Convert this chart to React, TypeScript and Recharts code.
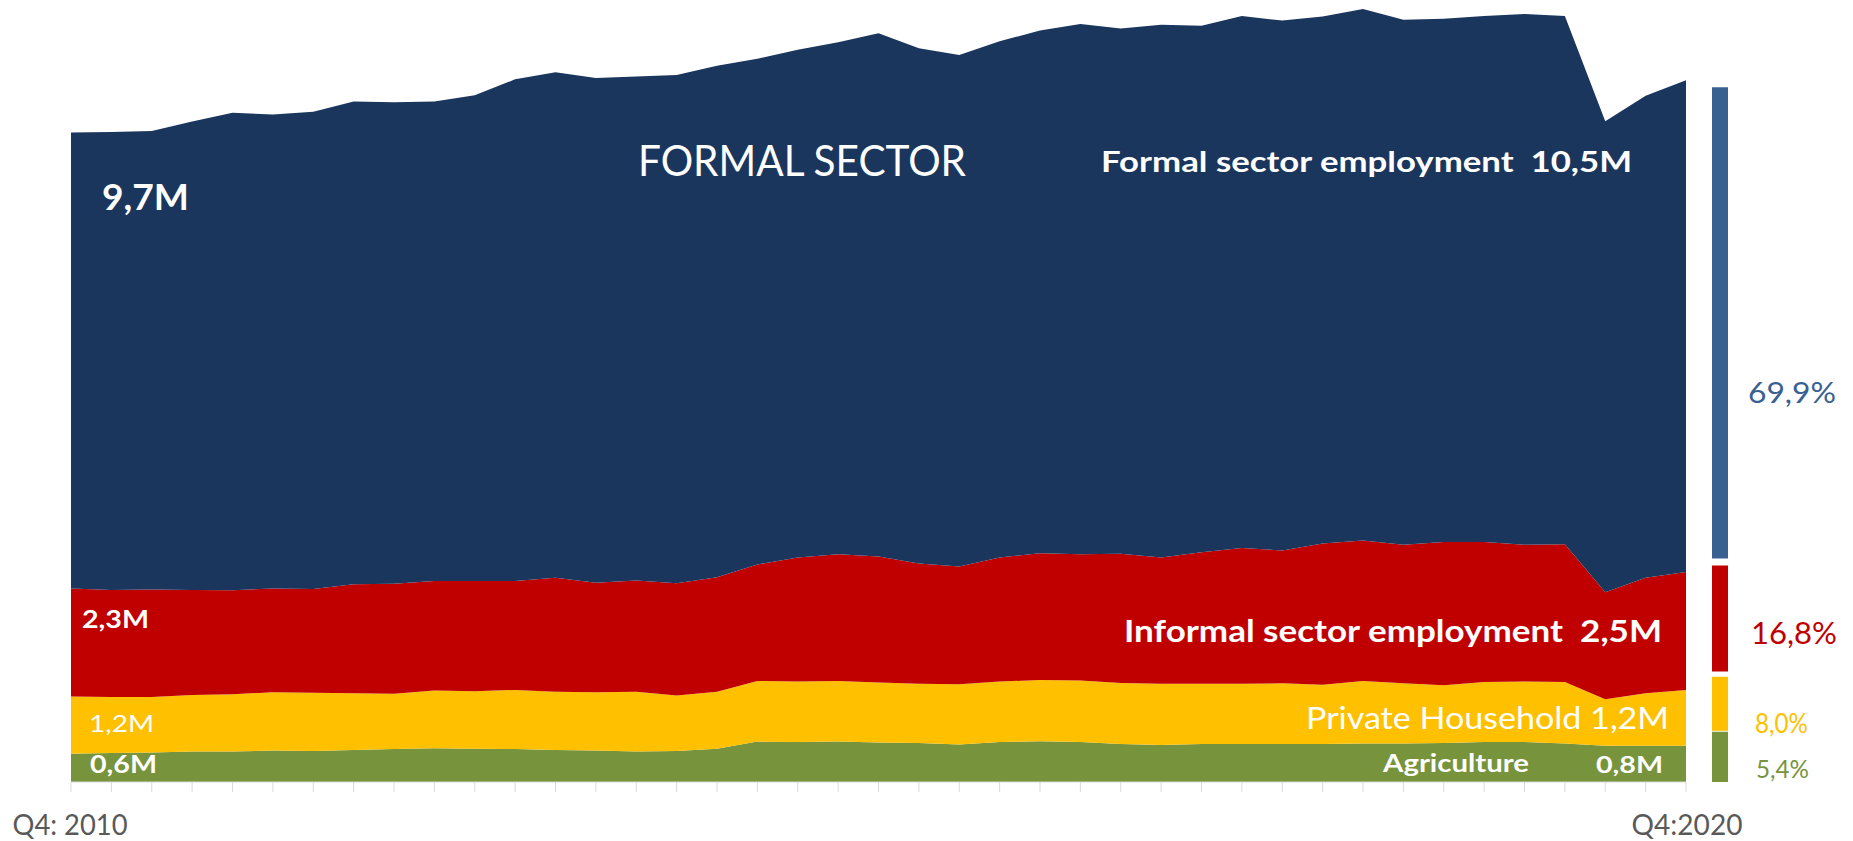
import React from 'react';
import { AreaChart, Area, XAxis, YAxis, BarChart, Bar } from 'recharts';

// Quarters Q4 2010 .. Q4 2020
const quarters = [
  'Q4: 2010',
  'Q1: 2011', 'Q2: 2011', 'Q3: 2011', 'Q4: 2011',
  'Q1: 2012', 'Q2: 2012', 'Q3: 2012', 'Q4: 2012',
  'Q1: 2013', 'Q2: 2013', 'Q3: 2013', 'Q4: 2013',
  'Q1: 2014', 'Q2: 2014', 'Q3: 2014', 'Q4: 2014',
  'Q1: 2015', 'Q2: 2015', 'Q3: 2015', 'Q4: 2015',
  'Q1: 2016', 'Q2: 2016', 'Q3: 2016', 'Q4: 2016',
  'Q1: 2017', 'Q2: 2017', 'Q3: 2017', 'Q4: 2017',
  'Q1: 2018', 'Q2: 2018', 'Q3: 2018', 'Q4: 2018',
  'Q1: 2019', 'Q2: 2019', 'Q3: 2019', 'Q4: 2019',
  'Q1: 2020', 'Q2: 2020', 'Q3: 2020', 'Q4:2020',
];

// Employment in millions
const agriculture = [0.60, 0.62, 0.63, 0.65, 0.65, 0.67, 0.66, 0.68, 0.70, 0.72, 0.71, 0.70, 0.68, 0.67, 0.65, 0.66, 0.71, 0.86, 0.85, 0.86, 0.84, 0.83, 0.80, 0.85, 0.87, 0.85, 0.81, 0.79, 0.81, 0.81, 0.81, 0.81, 0.82, 0.82, 0.83, 0.85, 0.85, 0.82, 0.77, 0.77, 0.77];
const privateHousehold = [1.22, 1.19, 1.18, 1.20, 1.22, 1.24, 1.24, 1.21, 1.18, 1.23, 1.22, 1.26, 1.24, 1.24, 1.27, 1.18, 1.21, 1.29, 1.29, 1.29, 1.28, 1.26, 1.28, 1.29, 1.30, 1.31, 1.30, 1.30, 1.28, 1.28, 1.29, 1.26, 1.33, 1.28, 1.23, 1.28, 1.29, 1.31, 0.99, 1.12, 1.19];
const informal = [2.30, 2.28, 2.29, 2.24, 2.21, 2.21, 2.21, 2.32, 2.34, 2.33, 2.35, 2.32, 2.43, 2.33, 2.37, 2.39, 2.44, 2.48, 2.64, 2.70, 2.68, 2.56, 2.51, 2.64, 2.70, 2.69, 2.75, 2.69, 2.80, 2.89, 2.83, 3.01, 2.99, 2.95, 3.05, 2.98, 2.91, 2.93, 2.28, 2.46, 2.51];
const formal = [9.71, 9.75, 9.76, 9.97, 10.17, 10.09, 10.16, 10.28, 10.25, 10.21, 10.34, 10.68, 10.76, 10.75, 10.73, 10.82, 10.89, 10.77, 10.81, 10.90, 11.14, 10.97, 10.89, 10.99, 11.13, 11.29, 11.18, 11.34, 11.21, 11.33, 11.28, 11.22, 11.32, 11.18, 11.14, 11.20, 11.30, 11.25, 10.03, 10.26, 10.47];

// Share bar (Q4 2020): labels and drawn segment lengths (same units as area chart)
const shareLabels = ['5,4%', '8,0%', '16,8%', '69,9%'];
const shareSegments = [1.07, 1.15, 2.26, 10.03];
const shareGaps = [0.02, 0.11, 0.15];

const COLORS = {
  formal: '#1A365D',
  informal: '#C00000',
  household: '#FFC000',
  agriculture: '#77933C',
  formalBar: '#386192',
  axis: '#595959',
};

const data = quarters.map((q, i) => ({
  quarter: q,
  agriculture: agriculture[i],
  household: privateHousehold[i],
  informal: informal[i],
  formal: formal[i],
}));

const barData = [
  {
    name: quarters[quarters.length - 1],
    agriculture: shareSegments[0],
    gapA: shareGaps[0],
    household: shareSegments[1],
    gapB: shareGaps[1],
    informal: shareSegments[2],
    gapC: shareGaps[2],
    formal: shareSegments[3],
  },
];

const FONT = 'Lato, "Open Sans", sans-serif';

const T = ({ x, y, w, size, bold = false, fill = '#fff', children }: any) => (
  <text
    x={x}
    y={y}
    fontSize={size}
    fontWeight={bold ? 700 : 400}
    fill={fill}
    fontFamily={FONT}
    textLength={w}
    lengthAdjust="spacingAndGlyphs"
    style={{ whiteSpace: 'pre' }}
  >
    {children}
  </text>
);

const W = 1853;
const H = 841;
const Y_DOMAIN: [number, number] = [0, 16.5];

const QuarterTick = (props: any) => {
  const { x, payload, index } = props;
  const last = quarters.length - 1;
  if (index !== 0 && index !== last) return <g />;
  const w = index === 0 ? 115 : 111;
  return (
    <T x={x - w / 2 + (index === 0 ? -1 : 1)} y={835} w={w} size={28} fill={COLORS.axis}>
      {payload.value}
    </T>
  );
};

export default function App() {
  return (
    <div style={{ position: 'absolute', left: 0, top: 0, width: W, height: H, background: '#fff' }}>
      <div style={{ position: 'absolute', left: 0, top: 0 }}>
        <AreaChart width={W} height={H} data={data} margin={{ top: 7, right: 167, bottom: 19, left: 71 }}>
          <XAxis
            dataKey="quarter"
            interval={0}
            height={40}
            tickSize={10}
            tickLine={{ stroke: '#D9D9D9' }}
            axisLine={{ stroke: '#D9D9D9' }}
            tick={<QuarterTick />}
          />
          <YAxis hide domain={Y_DOMAIN} width={0} />
          <Area type="linear" dataKey="agriculture" stackId="1" stroke="none" fill={COLORS.agriculture} fillOpacity={1} isAnimationActive={false} />
          <Area type="linear" dataKey="household" stackId="1" stroke="none" fill={COLORS.household} fillOpacity={1} isAnimationActive={false} />
          <Area type="linear" dataKey="informal" stackId="1" stroke="none" fill={COLORS.informal} fillOpacity={1} isAnimationActive={false} />
          <Area type="linear" dataKey="formal" stackId="1" stroke="none" fill={COLORS.formal} fillOpacity={1} isAnimationActive={false} />
        </AreaChart>
      </div>
      <div style={{ position: 'absolute', left: 0, top: 0, pointerEvents: 'none' }}>
        <BarChart width={W} height={H} data={barData} margin={{ top: 7, right: 125, bottom: 59, left: 1712 }} barCategoryGap={0}>
          <XAxis dataKey="name" hide />
          <YAxis hide domain={Y_DOMAIN} width={0} />
          <Bar dataKey="agriculture" stackId="s" fill={COLORS.agriculture} isAnimationActive={false} />
          <Bar dataKey="gapA" stackId="s" fill="transparent" isAnimationActive={false} />
          <Bar dataKey="household" stackId="s" fill={COLORS.household} isAnimationActive={false} />
          <Bar dataKey="gapB" stackId="s" fill="transparent" isAnimationActive={false} />
          <Bar dataKey="informal" stackId="s" fill={COLORS.informal} isAnimationActive={false} />
          <Bar dataKey="gapC" stackId="s" fill="transparent" isAnimationActive={false} />
          <Bar dataKey="formal" stackId="s" fill={COLORS.formalBar} isAnimationActive={false} />
        </BarChart>
      </div>
      <svg width={W} height={H} style={{ position: 'absolute', left: 0, top: 0, pointerEvents: 'none' }}>
        <T x={638} y={176} w={328} size={42}>FORMAL SECTOR</T>
        <T x={102} y={210} w={87} size={37} bold>9,7M</T>
        <T x={1101} y={172} w={531} size={29} bold>{'Formal sector employment  10,5M'}</T>
        <T x={82} y={628} w={67} size={25} bold>2,3M</T>
        <T x={1124} y={642} w={538} size={31} bold>{'Informal sector employment  2,5M'}</T>
        <T x={89} y={732} w={65} size={24}>1,2M</T>
        <T x={1306} y={729} w={363} size={30}>Private Household 1,2M</T>
        <T x={90} y={773} w={67} size={24} bold>0,6M</T>
        <T x={1383} y={772} w={146} size={25} bold>Agriculture</T>
        <T x={1596} y={773} w={67} size={23.5} bold>0,8M</T>
        <T x={1748} y={403} w={88} size={29.5} fill={COLORS.formalBar}>{shareLabels[3]}</T>
        <T x={1751} y={644} w={86} size={30} fill={COLORS.informal}>{shareLabels[2]}</T>
        <T x={1755} y={733} w={53} size={26} fill={COLORS.household}>{shareLabels[1]}</T>
        <T x={1756} y={778} w={53} size={25} fill={COLORS.agriculture}>{shareLabels[0]}</T>
      </svg>
    </div>
  );
}
